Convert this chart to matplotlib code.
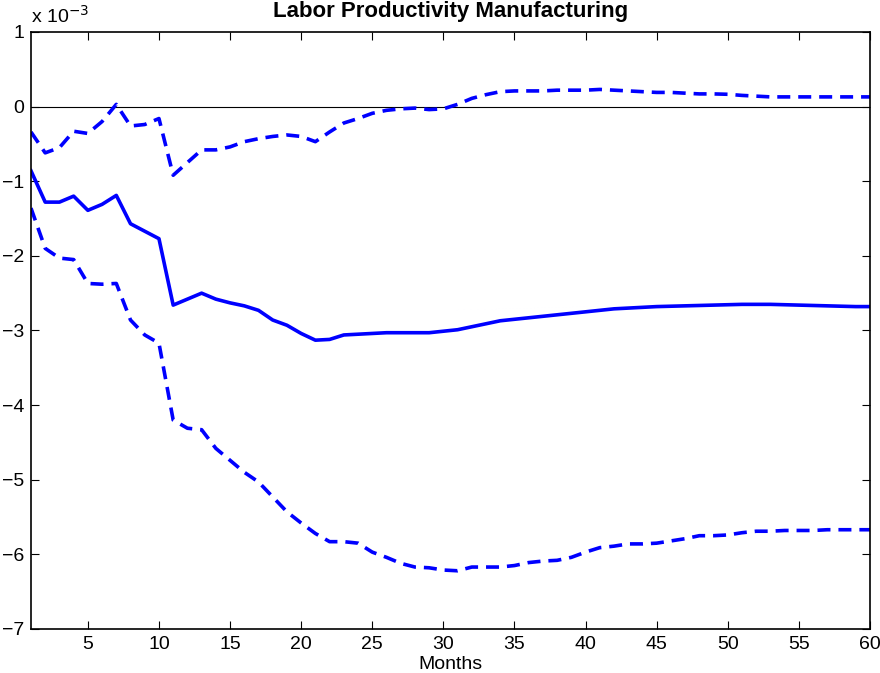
import numpy as np
import matplotlib
matplotlib.use('Agg')
import matplotlib.pyplot as plt

plt.rcParams['font.family'] = ['Liberation Sans', 'DejaVu Sans']

months = np.arange(1, 61)

# impulse response, in units of 1e-3
response = [-0.86, -1.28, -1.28, -1.20, -1.39, -1.31, -1.19, -1.57, -1.67, -1.77,
            -2.66, -2.58, -2.50, -2.58, -2.63, -2.67, -2.73, -2.86, -2.93, -3.04,
            -3.13, -3.12, -3.06, -3.05, -3.04, -3.03, -3.03, -3.03, -3.03, -3.01,
            -2.99, -2.95, -2.91, -2.87, -2.85, -2.83, -2.81, -2.79, -2.77, -2.75,
            -2.73, -2.71, -2.70, -2.69, -2.68, -2.675, -2.67, -2.665, -2.66, -2.655,
            -2.65, -2.65, -2.65, -2.655, -2.66, -2.665, -2.67, -2.675, -2.68, -2.68]

upper = [-0.34, -0.62, -0.55, -0.33, -0.36, -0.20, 0.03, -0.26, -0.24, -0.16,
         -0.92, -0.75, -0.58, -0.58, -0.54, -0.47, -0.43, -0.40, -0.38, -0.40,
         -0.47, -0.34, -0.22, -0.16, -0.09, -0.05, -0.03, -0.02, -0.04, -0.03,
         0.03, 0.11, 0.16, 0.20, 0.21, 0.21, 0.21, 0.22, 0.22, 0.22,
         0.23, 0.22, 0.21, 0.20, 0.19, 0.19, 0.18, 0.17, 0.17, 0.165,
         0.15, 0.14, 0.13, 0.13, 0.13, 0.13, 0.13, 0.13, 0.13, 0.13]

lower = [-1.36, -1.90, -2.03, -2.05, -2.37, -2.38, -2.37, -2.86, -3.06, -3.17,
         -4.20, -4.31, -4.33, -4.58, -4.74, -4.90, -5.03, -5.23, -5.43, -5.58,
         -5.72, -5.83, -5.83, -5.85, -5.97, -6.04, -6.12, -6.17, -6.18, -6.21,
         -6.22, -6.17, -6.17, -6.17, -6.15, -6.11, -6.09, -6.08, -6.04, -5.97,
         -5.91, -5.89, -5.86, -5.86, -5.85, -5.82, -5.79, -5.75, -5.75, -5.74,
         -5.71, -5.69, -5.69, -5.68, -5.68, -5.68, -5.67, -5.67, -5.67, -5.67]

fig = plt.figure(figsize=(8.8, 6.73), dpi=100)
ax = fig.add_axes([0.0352, 0.0654, 0.9534, 0.8871])

ax.axhline(0, color='black', lw=0.8)
dash = (0, (3.6, 2.2))
ax.plot(months, response, color='#0000ff', lw=2.6)
ax.plot(months, upper, color='#0000ff', lw=2.6, linestyle=dash)
ax.plot(months, lower, color='#0000ff', lw=2.6, linestyle=dash)

ax.set_xlim(1, 60)
ax.set_ylim(-7, 1)
ax.set_xticks(np.arange(5, 61, 5))
ax.set_yticks(np.arange(-7, 2, 1))
ax.tick_params(direction='in', top=True, right=True, length=6, labelsize=14, pad=5)
for s in ax.spines.values():
    s.set_linewidth(1.2)

ax.set_xlabel('Months', fontsize=14, labelpad=2)
ax.set_title('Labor Productivity Manufacturing', fontsize=16, fontweight='bold', pad=11)
ax.text(0.0, 1.008, 'x 10$^{-3}$', transform=ax.transAxes, fontsize=14, ha='left', va='bottom')

fig.savefig('out.png', dpi=100)
